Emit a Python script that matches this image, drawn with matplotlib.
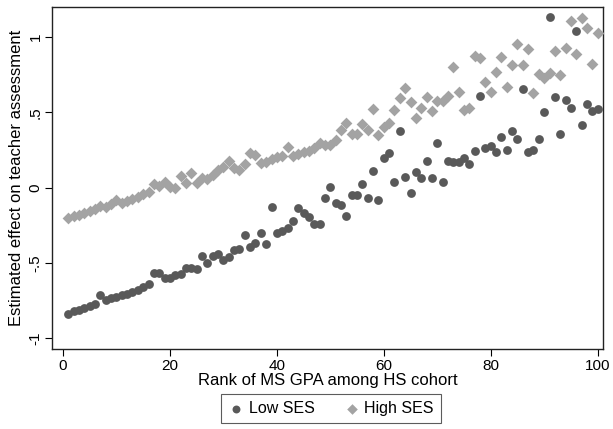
import matplotlib
matplotlib.use("Agg")
import matplotlib.pyplot as plt

plt.rcParams['font.family'] = ['Liberation Sans', 'DejaVu Sans']

# rank of MS GPA (percentile) 1..100
rank = list(range(1, 101))

low_ses = [
    -0.835, -0.82, -0.81, -0.80, -0.785, -0.77, -0.715, -0.745, -0.735, -0.725,
    -0.715, -0.705, -0.695, -0.68, -0.66, -0.638, -0.563, -0.563, -0.60, -0.60,
    -0.58, -0.573, -0.53, -0.535, -0.54, -0.453, -0.50, -0.453, -0.443, -0.48,
    -0.463, -0.413, -0.407, -0.316, -0.391, -0.367, -0.30, -0.376, -0.13, -0.302,
    -0.29, -0.266, -0.22, -0.132, -0.166, -0.192, -0.242, -0.242, -0.068, 0.007,
    -0.104, -0.112, -0.186, -0.052, -0.049, 0.025, -0.066, 0.112, -0.08, 0.197,
    0.228, 0.04, 0.378, 0.069, -0.037, 0.104, 0.062, 0.178, 0.064, 0.294,
    0.037, 0.177, 0.168, 0.173, 0.197, 0.155, 0.243, 0.608, 0.265, 0.279,
    0.235, 0.334, 0.248, 0.376, 0.323, 0.654, 0.239, 0.25, 0.321, 0.504,
    1.132, 0.599, 0.354, 0.582, 0.526, 1.039, 0.416, 0.555, 0.509, 0.52,
]

high_ses = [
    -0.20, -0.19, -0.18, -0.17, -0.155, -0.14, -0.12, -0.13, -0.11, -0.085,
    -0.105, -0.09, -0.075, -0.06, -0.04, -0.03, 0.025, 0.01, 0.035, 0.005,
    -0.005, 0.075, 0.03, 0.10, 0.03, 0.065, 0.055, 0.085, 0.115, 0.14,
    0.175, 0.13, 0.12, 0.155, 0.228, 0.217, 0.162, 0.17, 0.19, 0.20,
    0.21, 0.272, 0.21, 0.22, 0.239, 0.245, 0.26, 0.295, 0.283, 0.28,
    0.316, 0.38, 0.427, 0.356, 0.355, 0.425, 0.385, 0.52, 0.352, 0.405,
    0.43, 0.517, 0.597, 0.658, 0.568, 0.46, 0.527, 0.603, 0.511, 0.577,
    0.577, 0.608, 0.798, 0.632, 0.515, 0.527, 0.875, 0.862, 0.703, 0.637,
    0.769, 0.865, 0.67, 0.814, 0.953, 0.81, 0.92, 0.63, 0.752, 0.73,
    0.76, 0.906, 0.747, 0.928, 1.105, 0.885, 1.123, 1.061, 0.818, 1.024,
]

xticks = [0, 20, 40, 60, 80, 100]
yticks = [-1, -0.5, 0, 0.5, 1]
ytick_labels = ['-1', '-.5', '0', '.5', '1']

fig = plt.figure(figsize=(6.13, 4.29), dpi=100)
ax = fig.add_axes([0.0853, 0.1865, 0.8984, 0.7965])

ax.scatter(rank, low_ses, s=40, marker='o', color='#595959', linewidths=0,
           label='Low SES', zorder=3)
ax.scatter(rank, high_ses, s=36, marker='D', color='#a3a3a3', linewidths=0,
           label='High SES', zorder=3)

ax.set_xlim(-2, 101)
ax.set_ylim(-1.07, 1.196)
ax.set_xticks(xticks)
ax.set_yticks(yticks)
ax.set_yticklabels(ytick_labels, rotation=90, va='center')
ax.tick_params(direction='out', length=5, width=0.8, labelsize=11, pad=2)

for s in ax.spines.values():
    s.set_linewidth(1.0)
    s.set_color('#222222')

ax.set_xlabel('Rank of MS GPA among HS cohort', fontsize=12, labelpad=0)
ax.set_ylabel('Estimated effect on teacher assessment', fontsize=12, labelpad=3)

leg = fig.legend(loc='lower center', bbox_to_anchor=(0.54, -0.005), ncol=2,
                 fontsize=11.5, frameon=True, fancybox=False, handletextpad=0.3,
                 columnspacing=1.8, borderpad=0.45, handlelength=1.0,
                 markerscale=0.9)
leg.get_frame().set_edgecolor('#333333')
leg.get_frame().set_linewidth(0.8)

fig.savefig('out.png', dpi=100)
